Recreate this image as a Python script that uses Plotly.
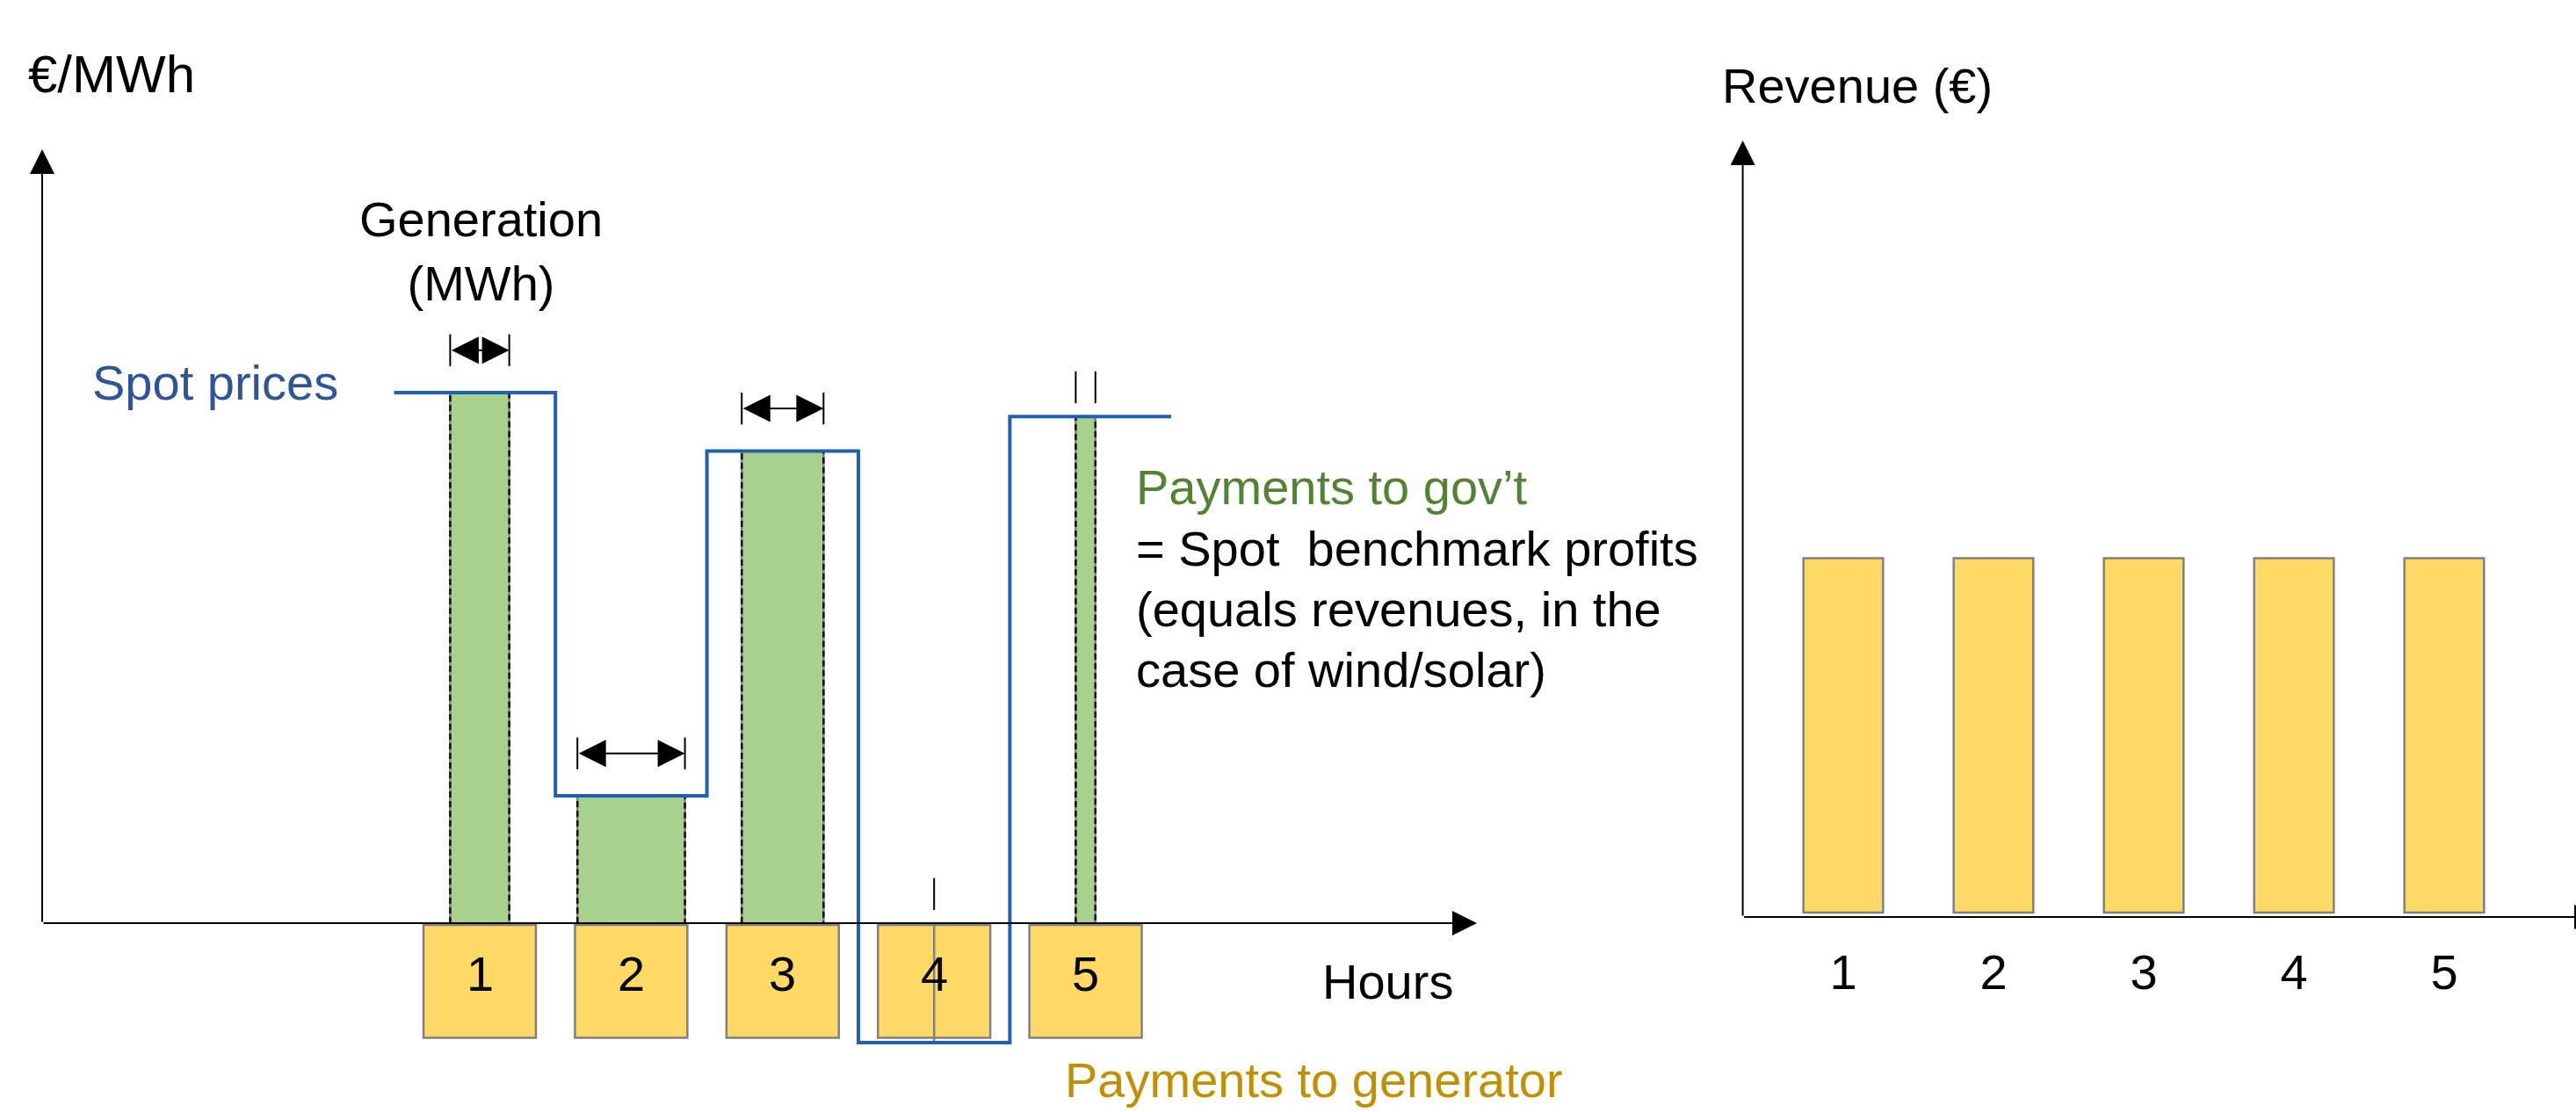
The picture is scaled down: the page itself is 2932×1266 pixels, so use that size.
import plotly.graph_objects as go

# ---------------- data ----------------
hours = [1, 2, 3, 4, 5]
hour_labels = ["1", "2", "3", "4", "5"]
spot_prices = [100, 24, 89, -22.5, 95.5]      # €/MWh (relative)
generation = [0.39, 0.71, 0.54, 0.0, 0.13]     # MWh (drawn as bar widths)
revenue = [100, 100, 100, 100, 100]            # € (relative)

# ---------------- styling / layout constants ----------------
W, H = 2932, 1266
FONT = "Liberation Sans, Arial, sans-serif"
FS = 56

GREEN_FILL = "#A9D18E"
YELLOW = "#FFD966"
GREY = "#808080"
BLUE = "#1F60B0"
BLUE_TEXT = "#2F5597"
GREEN_TEXT = "#548235"
GOLD_TEXT = "#BF9000"

# pixel calibration of the two panels
L_X0, L_XU = 373.6, 172.4      # px of hour 0, px per hour
L_Y0, L_YU = 1051.0, 6.04      # px of 0 €/MWh, px per unit
R_X0, R_XU = 1927.0, 171.0
R_Y0, R_YU = 1039.0, 4.035
R_AXIS_PX = 1044.0
L_DOM = [0.0, 0.625]
R_DOM = [0.64, 1.0]


def lx(px):
    return (px - L_X0) / L_XU


def ly(py):
    return (L_Y0 - py) / L_YU


def rx(px):
    return (px - R_X0) / R_XU


def ry(py):
    return (R_Y0 - py) / R_YU


def pxp(px):
    return px / W


def pyp(py):
    return 1 - py / H


fig = go.Figure()

# ---------------- left panel ----------------
# green generation bars (width = MWh, height = price)
fig.add_trace(go.Bar(
    x=hours, y=[max(p, 0) if g > 0 else 0 for p, g in zip(spot_prices, generation)],
    width=generation, marker=dict(color=GREEN_FILL, line=dict(width=0)),
    xaxis="x", yaxis="y", hoverinfo="skip"))

# bar outlines: grey solid + black dashes
ox, oy, dx, dy = [], [], [], []
for h, p, g in zip(hours, spot_prices, generation):
    x0, x1 = h - g / 2, h + g / 2
    ox += [x0, x0, x1, x1, None]
    oy += [0, p, p, 0, None]
    if g > 0:
        dx += [x0, x0, x1, x1, None]
        dy += [0, p, p, 0, None]
fig.add_trace(go.Scatter(x=ox, y=oy, mode="lines", line=dict(color=GREY, width=2.5),
                         xaxis="x", yaxis="y", hoverinfo="skip"))
fig.add_trace(go.Scatter(x=dx, y=dy, mode="lines",
                         line=dict(color="#111111", width=2.5, dash="7px,4px"),
                         xaxis="x", yaxis="y", hoverinfo="skip"))

# spot price step line
ext = 0.065
edges = [hours[0] - 0.5 - ext] + [h + 0.5 for h in hours[:-1]] + [hours[-1] + 0.5 + ext]
fig.add_trace(go.Scatter(x=edges, y=spot_prices + [spot_prices[-1]], mode="lines",
                         line=dict(color=BLUE, width=4, shape="hv"),
                         xaxis="x", yaxis="y", hoverinfo="skip"))

# width markers (end ticks)
tx, ty = [], []
annotations = []
for h, p, g in zip(hours, spot_prices, generation):
    top = max(p, 0)
    wide = g * L_XU > 50
    lo, hi = (5, 11) if wide else (2.5, 8.5)
    ends = [h - g / 2, h + g / 2] if g > 0 else [h]
    for e in ends:
        tx += [e, e, None]
        ty += [top + lo, top + hi, None]
    if wide:
        annotations.append(dict(
            x=h + g / 2, y=top + 8, ax=h - g / 2, ay=top + 8, xref="x", yref="y",
            axref="x", ayref="y", text="", showarrow=True, arrowside="end+start",
            arrowhead=2, startarrowhead=2, arrowsize=3.1, startarrowsize=3.1,
            arrowwidth=2, arrowcolor="black"))
fig.add_trace(go.Scatter(x=tx, y=ty, mode="lines", line=dict(color="black", width=2),
                         xaxis="x", yaxis="y", hoverinfo="skip"))

# yellow hour boxes below the axis
shapes = []
box_half = 0.371
for h, lab in zip(hours, hour_labels):
    shapes.append(dict(type="rect", xref="x", yref="y", x0=h - box_half, x1=h + box_half,
                       y0=ly(1053), y1=ly(1181.5), fillcolor=YELLOW,
                       line=dict(color=GREY, width=2.5), layer="below"))
    annotations.append(dict(x=h, y=ly(1108), xref="x", yref="y", text=lab, showarrow=False,
                            font=dict(size=FS, color="black")))

# ---------------- right panel ----------------
fig.add_trace(go.Bar(x=hours, y=revenue, width=0.53,
                     marker=dict(color=YELLOW, line=dict(color=GREY, width=2.5)),
                     xaxis="x2", yaxis="y2", hoverinfo="skip"))

# ---------------- axes arrows ----------------
ax_list = [
    # left y axis
    dict(x=lx(48), y=ly(170), ax=lx(48), ay=0, xref="x", yref="y", axref="x", ayref="y"),
    # left x axis
    dict(x=lx(1681), y=0, ax=lx(48), ay=0, xref="x", yref="y", axref="x", ayref="y"),
    # right y axis
    dict(x=rx(1983.6), y=ry(160), ax=rx(1983.6), ay=ry(R_AXIS_PX),
         xref="x2", yref="y2", axref="x2", ayref="y2"),
    # right x axis
    dict(x=rx(2958), y=ry(R_AXIS_PX), ax=rx(1983.6), ay=ry(R_AXIS_PX),
         xref="x2", yref="y2", axref="x2", ayref="y2"),
]
for a in ax_list:
    d = dict(text="", showarrow=True, arrowhead=2, arrowsize=2.8, arrowwidth=2,
             arrowcolor="black")
    d.update(a)
    annotations.append(d)

# ---------------- text ----------------
def txt(text, px, py, color="black", xanchor="left", size=FS):
    return dict(x=pxp(px), y=pyp(py), xref="paper", yref="paper", text=text,
                showarrow=False, xanchor=xanchor, yanchor="middle", align=xanchor,
                font=dict(size=size, color=color))


annotations += [
    txt("€/MWh", 30, 84, size=60),
    txt("Generation<br>(MWh)", 547, 286, xanchor="center"),
    txt("Spot prices", 103, 435, BLUE_TEXT),
    txt("Payments to gov’t", 1291, 555, GREEN_TEXT),
    txt("= Spot  benchmark profits", 1291, 624),
    txt("(equals revenues, in the", 1291, 693),
    txt("case of wind/solar)", 1291, 762),
    txt("Hours", 1503, 1117),
    txt("Payments to generator", 1210, 1229, GOLD_TEXT),
    txt("Revenue (€)", 1958, 98),
]

hidden = dict(visible=False, showgrid=False, zeroline=False, fixedrange=True)
fig.update_layout(
    width=W, height=H, margin=dict(l=0, r=0, t=0, b=0),
    paper_bgcolor="white", plot_bgcolor="white", showlegend=False,
    font=dict(family=FONT, size=FS, color="black"),
    barmode="overlay",
    xaxis=dict(hidden, domain=L_DOM, range=[lx(L_DOM[0] * W), lx(L_DOM[1] * W)], anchor="y"),
    yaxis=dict(hidden, domain=[0, 1], range=[ly(H), ly(0)], anchor="x"),
    xaxis2=dict(domain=R_DOM, range=[rx(R_DOM[0] * W), rx(W)], anchor="y2",
                showgrid=False, zeroline=False, showline=False, fixedrange=True,
                tickmode="array", tickvals=hours, ticktext=hour_labels,
                ticks="outside", ticklen=14, tickcolor="rgba(0,0,0,0)",
                tickfont=dict(size=FS, color="black")),
    yaxis2=dict(hidden, domain=[1 - R_AXIS_PX / H, 1], range=[ry(R_AXIS_PX), ry(0)], anchor="x2"),
    shapes=shapes,
    annotations=annotations,
)

fig.write_html("out.html")
